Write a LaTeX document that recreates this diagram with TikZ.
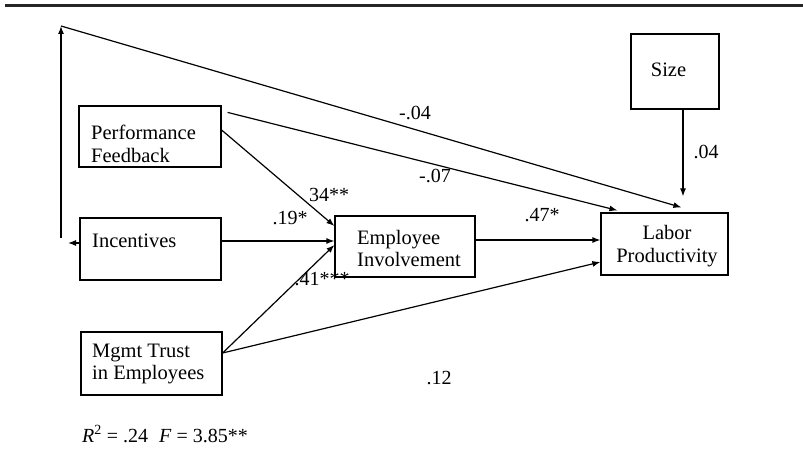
\documentclass[tikz,border=0pt]{standalone}
\usepackage{fontspec}
\setmainfont{Liberation Serif}
\usetikzlibrary{arrows.meta}
\begin{document}
\begin{tikzpicture}[x=1pt,y=-1pt,
  box/.style={draw, line width=1.2pt, inner sep=0pt},
  txt/.style={inner sep=0pt, align=left, font=\fontsize{20.5}{22.5}\selectfont},
  ctxt/.style={inner sep=0pt, align=center, font=\fontsize{20.5}{22.5}\selectfont},
  num/.style={inner sep=0pt, font=\fontsize{20}{22}\selectfont},
  conn/.style={line width=1.2pt, -{Latex[length=8pt,width=6pt]}},
  rule/.style={line width=3pt, black!85}]
\useasboundingbox (0,0) rectangle (803,449);
% top rule
\coordinate (r1) at (5,6);
\coordinate (r2) at (803,6);
\draw[rule] (r1) -- (r2);
% boxes
\node[box, minimum width=142pt, minimum height=61pt] (pf) at (150,136.5) {};
\node[box, minimum width=141pt, minimum height=62pt] (inc) at (150.5,249) {};
\node[box, minimum width=141pt, minimum height=63pt] (mt) at (151.5,363.5) {};
\node[box, minimum width=140pt, minimum height=61pt] (ei) at (405,246.5) {};
\node[box, minimum width=127pt, minimum height=62pt] (lp) at (664.5,244) {};
\node[box, minimum width=88pt, minimum height=75pt] (sz) at (675,71.5) {};
% box texts
\node[txt, anchor=west] (pfT) at (91,144) {Performance\\Feedback};
\node[txt, anchor=west] (incT) at (92,241) {Incentives};
\node[txt, anchor=west] (mtT) at (92,364) {Mgmt Trust\\in Employees};
\node[txt, anchor=west] (eiT) at (357,248.5) {Employee\\Involvement};
\node[ctxt] (lpT) at (667,246) {Labor\\Productivity};
\node[ctxt] (szT) at (668.5,70) {Size};
% free coordinates
\coordinate (incl) at (68,243);
\coordinate (vb) at (61,238);
\coordinate (vt) at (61,26);
% connectors
\draw[conn] ([yshift=6.5pt]pf.east) -- ([yshift=20.5pt]ei.west);
\draw[conn] ([yshift=8pt]inc.east) -- ([yshift=5.5pt]ei.west);
\draw[conn] ([yshift=10.5pt]mt.east) -- ([yshift=1.5pt]ei.west);
\draw[conn] ([yshift=6.5pt]ei.east) -- ([yshift=4pt]lp.west);
\draw[conn] ([yshift=10.5pt]mt.east) -- ([yshift=-18pt]lp.west);
\draw[conn] ([shift={(6,7)}]pf.north east) -- ([shift={(17,-2)}]lp.north west);
\draw[conn] ([xshift=8pt]sz.south) -- ([shift={(18.5,-16)}]lp.north);
\draw[conn] ([yshift=6pt]inc.west) -- (incl);
\draw[conn] (vb) -- (vt);
\draw[conn] (vt) -- ([shift={(81,-5)}]lp.north west);
% coefficient labels
\node[num] (l04a) at (415,113) {-.04};
\node[num] (l07) at (435,176) {-.07};
\node[num] (l34) at (329,195) {34**};
\node[num] (l19) at (290,218) {.19*};
\node[num] (l41) at (322,279) {.41***};
\node[num] (l47) at (542,215) {.47*};
\node[num] (l04b) at (706,152) {.04};
\node[num] (l12) at (439,378) {.12};
\node[num, anchor=west] (fit) at (82,434) {\textit{R}\textsuperscript{2} = .24\hspace{11pt}\textit{F} = 3.85**};
\end{tikzpicture}
\end{document}
